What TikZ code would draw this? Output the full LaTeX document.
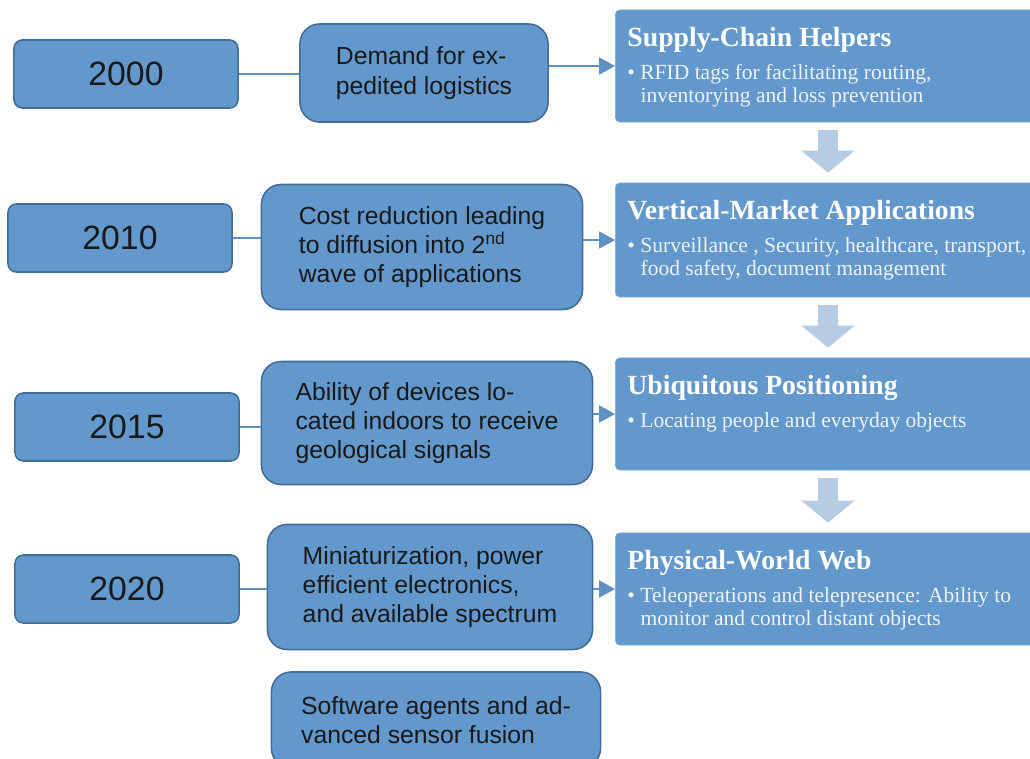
\documentclass[tikz,border=0pt]{standalone}
\usepackage{fontspec}
\setmainfont{Liberation Serif}
\setsansfont{Liberation Sans}
\usetikzlibrary{arrows.meta}
\usetikzlibrary{positioning}
\definecolor{boxblue}{RGB}{99,152,204}
\definecolor{boxedge}{RGB}{66,108,152}
\definecolor{downblue}{RGB}{182,203,228}
\definecolor{pale}{RGB}{238,243,250}

\begin{document}
\begin{tikzpicture}[x=0.025cm, y=-0.025cm,
yearbox/.style={draw=boxedge, line width=1.1pt, fill=boxblue, rounded corners=6pt,
  minimum width=5.6cm, minimum height=1.7cm, text=black!90,
  font=\sffamily\fontsize{24}{26}\selectfont},
causebox/.style={draw=boxedge, line width=1.1pt, fill=boxblue, rounded corners=14pt,
  align=left, text=black!90, font=\sffamily\fontsize{17.6}{20.8}\selectfont},
stagebox/.style={fill=boxblue, draw=boxblue!85!white, rounded corners=3pt,
  minimum width=10.625cm, minimum height=2.8cm},
stagetitle/.style={anchor=north west, inner sep=0pt, text=white,
  font=\bfseries\fontsize{19.7}{22}\selectfont},
stagetext/.style={anchor=north west, inner sep=0pt, align=left, text=pale,
  font=\fontsize{15.3}{16.2}\selectfont},
link/.style={boxblue!95!black, line width=1.6pt},
push/.style={boxblue!95!black, line width=1.6pt, -{Triangle[length=0.4cm, width=0.42cm]}},
down/.style={downblue, line width=0.5cm, -{Triangle[length=0.55cm, width=1.3cm]}}]
\useasboundingbox (0,0) rectangle (1030,758);

% years
\foreach \yr/\x/\y in {2000/126/74, 2010/120/238, 2015/127/427, 2020/127/589}{
\node[yearbox] (y\yr) at (\x,\y) {\yr};}

% driving forces
\node[causebox, minimum width=6.2cm, minimum height=2.45cm] (demand) at (424,73)
  {Demand for ex-\\pedited logistics};
\node[causebox, minimum width=8.025cm, minimum height=3.125cm] (cost) at (422,247)
  {Cost reduction leading\\to diffusion into 2\textsuperscript{nd}\\wave of applications};
\node[causebox, minimum width=8.275cm, minimum height=3.075cm] (ability) at (427,423)
  {Ability of devices lo-\\cated indoors to receive\\geological signals};
\node[causebox, minimum width=8.125cm, minimum height=3.125cm] (mini) at (430,587)
  {Miniaturization, power\\efficient electronics,\\and available spectrum};
\node[causebox, minimum width=8.225cm, minimum height=2.4cm] (agents) at (436,720)
  {Software agents and ad-\\vanced sensor fusion};

% stages
\node[stagebox] (supply) at (828,66) {};
\node[stagebox, minimum height=2.85cm] (vertical) at (828,240) {};
\node[stagebox] (ubiq) at (828,414) {};
\node[stagebox] (physical) at (828,589) {};

\node[stagetitle, below right=0.42cm and 0.3cm of supply.north west] (supplyT) {Supply-Chain Helpers};
\node[stagetext, below=0.3cm of supplyT.south west, anchor=north west] (supplyB)
  {\textbullet\ RFID tags for facilitating routing,\\\hspace*{0.33cm}inventorying and loss prevention};
\node[stagetitle, below right=0.42cm and 0.3cm of vertical.north west] (verticalT) {Vertical-Market Applications};
\node[stagetext, below=0.3cm of verticalT.south west, anchor=north west] (verticalB)
  {\textbullet\ Surveillance , Security, healthcare, transport,\\\hspace*{0.33cm}food safety, document management};
\node[stagetitle, below right=0.42cm and 0.3cm of ubiq.north west] (ubiqT) {Ubiquitous Positioning};
\node[stagetext, below=0.3cm of ubiqT.south west, anchor=north west] (ubiqB)
  {\textbullet\ Locating people and everyday objects};
\node[stagetitle, below right=0.42cm and 0.3cm of physical.north west] (physicalT) {Physical-World Web};
\node[stagetext, below=0.3cm of physicalT.south west, anchor=north west] (physicalB)
  {\textbullet\ Teleoperations and telepresence: Ability to\\\hspace*{0.33cm}monitor and control distant objects};

\foreach \i/\j in {y2000/demand, y2010/cost, y2015/ability, y2020/mini}{
\draw[link] (\i.east) -- (\i.east -| \j.west);}
\foreach \i/\j in {demand/supply, cost/vertical, ability/ubiq, mini/physical}{
\draw[push] (\j.west -| \i.east) -- (\j.west);}
\foreach \i/\j in {supply/vertical, vertical/ubiq, ubiq/physical}{
\draw[down] ([yshift=-0.2cm]\i.south) -- ([yshift=0.25cm]\j.north);}
\end{tikzpicture}
\end{document}
